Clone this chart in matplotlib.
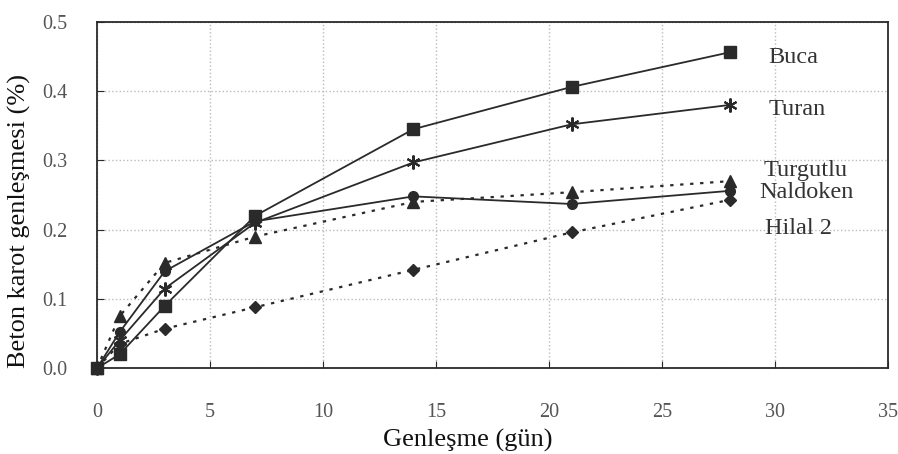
import numpy as np
import matplotlib.pyplot as plt

# expansion readings (%) at test days
days = [0, 1, 3, 7, 14, 21, 28]
buca = [0.0, 0.020, 0.090, 0.220, 0.345, 0.406, 0.456]
turan = [0.0, 0.040, 0.115, 0.210, 0.297, 0.352, 0.380]
turgutlu = [0.0, 0.075, 0.152, 0.190, 0.240, 0.254, 0.270]
naldoken = [0.0, 0.052, 0.140, 0.212, 0.248, 0.237, 0.256]
hilal2 = [0.0, 0.035, 0.057, 0.088, 0.142, 0.196, 0.243]

names = ["Buca", "Turan", "Turgutlu", "Naldoken", "Hilal 2"]
label_x = [29.7, 29.7, 29.5, 29.3, 29.55]
label_y = [0.449, 0.373, 0.286, 0.254, 0.202]

plt.rcParams['font.family'] = ['Liberation Serif', 'DejaVu Serif']

fig = plt.figure(figsize=(8.98, 4.54), dpi=100)
ax = fig.add_axes([0.108, 0.189, 0.881, 0.763])

ink = '#2a2a2a'
ax.plot(days, buca, color=ink, lw=1.3, marker='s', ms=8, zorder=3)
ax.plot(days, turan, color=ink, lw=1.3, marker=(6, 2, 0), ms=10, mew=1.5, zorder=3)
ax.plot(days, turgutlu, color=ink, lw=1.6, ls=(0, (1.5, 3)), marker='^', ms=8, zorder=3)
ax.plot(days, naldoken, color=ink, lw=1.3, marker='o', ms=7, zorder=3)
ax.plot(days, hilal2, color=ink, lw=1.6, ls=(0, (1.5, 3)), marker='D', ms=6, zorder=3)

for name, x, y in zip(names, label_x, label_y):
    ax.text(x, y, name, fontsize=17.5, color='#333333', va='center', ha='left')

ax.set_xlim(0, 35)
ax.set_ylim(0, 0.5)
ax.set_xticks(np.arange(0, 36, 5))
ax.set_yticks(np.arange(0, 0.51, 0.1))
ax.set_yticklabels(['0.0', '0.1', '0.2', '0.3', '0.4', '0.5'])
ax.grid(True, color='#bbbbbb', ls=':', lw=1.0)
ax.tick_params(direction='in', length=5, colors=ink, labelcolor='#555555', labelsize=14.5)
ax.tick_params(axis='x', pad=25)
ax.tick_params(axis='y', pad=21)
for s in ax.spines.values():
    s.set_color(ink)
    s.set_linewidth(1.3)
for line in ax.lines:
    line.set_clip_on(False)

ax.set_xlabel("Genleşme (gün)", fontsize=19, color='#111111')
ax.xaxis.set_label_coords(0.469, -0.175)
ax.set_ylabel("Beton karot genleşmesi (%)", fontsize=19, color='#111111')
ax.yaxis.set_label_coords(-0.083, 0.425)

fig.savefig('out.png', dpi=100, facecolor='white')
